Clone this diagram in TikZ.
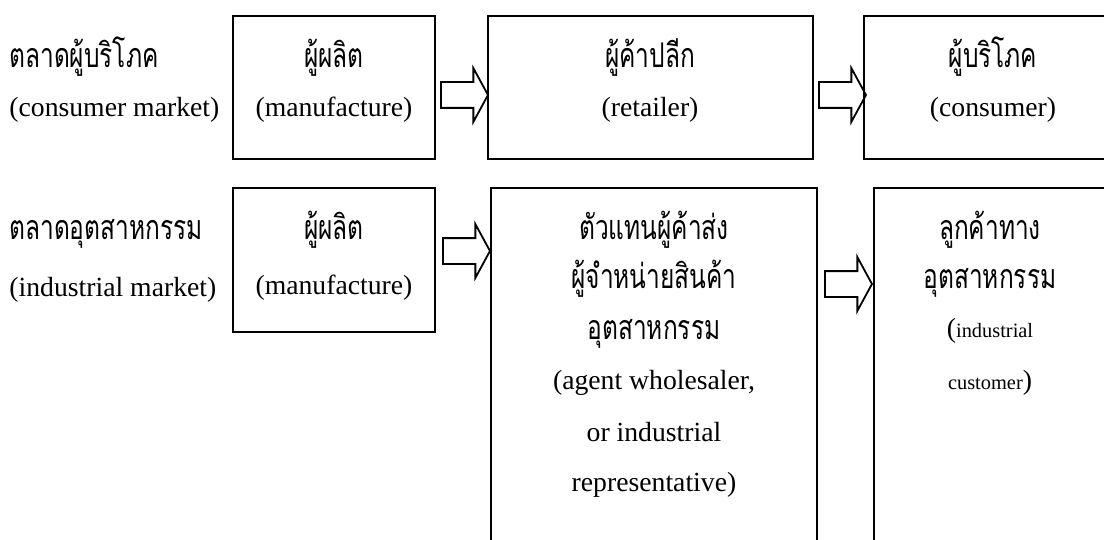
\documentclass[tikz,border=0pt]{standalone}
\usepackage{fontspec}
\setmainfont{Liberation Serif}
\newfontfamily\thaifont[Script=Thai,FakeStretch=0.72]{Loma}
\usetikzlibrary{shapes.arrows}

\begin{document}
\begin{tikzpicture}[x=0.5pt,y=-0.5pt,
    box/.style={draw=black,line width=1pt,inner sep=0pt},
    flow/.style={single arrow,draw=black,line width=0.9pt,inner xsep=0pt,inner ysep=6pt,
        minimum height=23.5pt,single arrow head extend=7pt,single arrow tip angle=123,anchor=tip},
    th/.style={font=\thaifont\fontsize{17pt}{20pt}\selectfont,anchor=base,inner sep=0pt},
    en/.style={font=\fontsize{13.85pt}{16pt}\selectfont,anchor=base,inner sep=0pt},
    sm/.style={font=\fontsize{10.2pt}{12pt}\selectfont}]

    \useasboundingbox (0,0) rectangle (1104,540);

    % Place the boxes
    \node[box,minimum width=101pt,minimum height=71.5pt]   (m1) at (334,87.5)  {};
    \node[box,minimum width=162.5pt,minimum height=71.5pt] (r1) at (650.5,87.5) {};
    \node[box,minimum width=130pt,minimum height=71.5pt]   (c1) at (994,87.5)  {};
    \node[box,minimum width=101pt,minimum height=72pt]     (m2) at (334,260)   {};
    \node[box,minimum width=163pt,minimum height=186pt]    (w2) at (654,374)   {};
    \node[box,minimum width=130pt,minimum height=186pt]    (c2) at (1004,374)  {};

    % Draw the arrows
    \node[flow] (a1) at (489,95)  {};
    \node[flow] (a2) at (867,95)  {};
    \node[flow] (a3) at (491,251) {};
    \node[flow] (a4) at (873,284) {};

    % Market labels
    \node[th,anchor=base west] (l1)  at (9,68)  {ตลาดผู้บริโภค};
    \node[en,anchor=base west] (l1e) at (9,117) {(consumer market)};
    \node[th,anchor=base west] (l2)  at (9,240) {ตลาดอุตสาหกรรม};
    \node[en,anchor=base west] (l2e) at (9,296) {(industrial market)};

    % Consumer market texts
    \node[th] (m1t) at (334,68)   {ผู้ผลิต};
    \node[en] (m1e) at (334,117)  {(manufacture)};
    \node[th] (r1t) at (650,68)   {ผู้ค้าปลีก};
    \node[en] (r1e) at (650,117)  {(retailer)};
    \node[th] (c1t) at (993,68)   {ผู้บริโภค};
    \node[en] (c1e) at (993,117)  {(consumer)};

    % Industrial market texts
    \node[th] (m2t) at (334,240) {ผู้ผลิต};
    \node[en] (m2e) at (334,294) {(manufacture)};
    \node[th] (w2a) at (654,240) {ตัวแทนผู้ค้าส่ง};
    \node[th] (w2b) at (654,288) {ผู้จำหน่ายสินค้า};
    \node[th] (w2c) at (654,339) {อุตสาหกรรม};
    \node[en] (w2d) at (654,389) {(agent wholesaler,};
    \node[en] (w2e) at (654,441) {or industrial};
    \node[en] (w2f) at (654,491) {representative)};
    \node[th] (c2a) at (990,240) {ลูกค้าทาง};
    \node[th] (c2b) at (990,288) {อุตสาหกรรม};
    \node[en] (c2c) at (990,337) {({\fontsize{10.2pt}{12pt}\selectfont industrial}};
    \node[en] (c2d) at (990,389) {{\fontsize{10.2pt}{12pt}\selectfont customer})};

\end{tikzpicture}
\end{document}
